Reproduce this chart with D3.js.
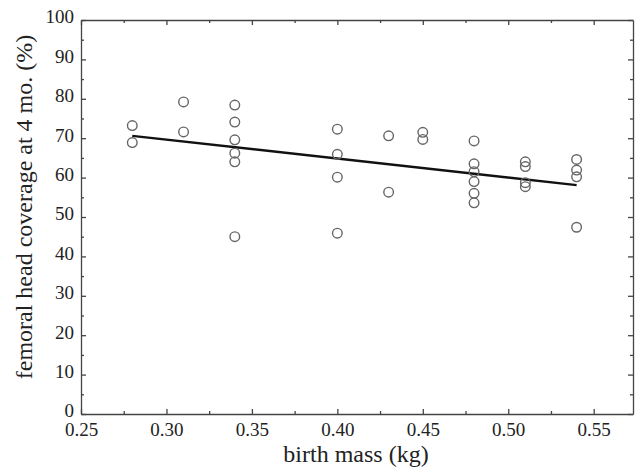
<!DOCTYPE html>
<html>
<head>
<meta charset="utf-8">
<script src="https://cdn.jsdelivr.net/npm/d3@7"></script>
<style>
  body { margin: 0; background: #fff; }
  .c-axis path, .c-axis line { stroke: #444; stroke-width: 1.3; }
  .c-axis text { font-family: "Liberation Serif", "Times New Roman", serif; font-size: 19px; fill: #222; }
  .c-title { font-family: "Liberation Serif", "Times New Roman", serif; font-size: 24px; fill: #222; }
</style>
</head>
<body>
<div id="chart"></div>
<script>
// measured points (birth mass in kg, coverage in %)
const birthMass = [
  0.28, 0.28,
  0.31, 0.31,
  0.34, 0.34, 0.34, 0.34, 0.34, 0.34,
  0.40, 0.40, 0.40, 0.40,
  0.43, 0.43,
  0.45, 0.45,
  0.48, 0.48, 0.48, 0.48, 0.48, 0.48,
  0.51, 0.51, 0.51, 0.51,
  0.54, 0.54, 0.54, 0.54
];
const headCoverage = [
  73.2, 68.9,
  79.2, 71.6,
  78.4, 74.1, 69.6, 66.2, 64.0, 45.0,
  72.3, 65.9, 60.1, 45.9,
  70.6, 56.3,
  71.5, 69.7,
  69.3, 63.5, 61.5, 59.0, 56.0, 53.6,
  64.0, 62.8, 58.7, 57.7,
  64.6, 61.9, 60.2, 47.4
];
// regression line end points
const fitMass = [0.28, 0.54];
const fitCoverage = [70.6, 58.1];

const xTicks = [0.25, 0.30, 0.35, 0.40, 0.45, 0.50, 0.55];
const xMinorTicks = [0.275, 0.325, 0.375, 0.425, 0.475, 0.525, 0.575];
const yTicks = [0, 10, 20, 30, 40, 50, 60, 70, 80, 90, 100];
const yMinorTicks = [5, 15, 25, 35, 45, 55, 65, 75, 85, 95];

const width = 637;
const height = 469;
const margin = { top: 20, right: 4, bottom: 55, left: 81 };

const svg = d3.select('#chart')
  .append('svg')
  .attr('width', width)
  .attr('height', height);

const x = d3.scaleLinear().domain([0.25, 0.573]).range([margin.left, width - margin.right]);
const y = d3.scaleLinear().domain([0, 100]).range([height - margin.bottom, margin.top]);

const xMinor = xMinorTicks.filter(v => v < x.domain()[1]);

// bottom axis
svg.append('g')
  .attr('class', 'c-axis')
  .attr('transform', 'translate(0,' + y(0) + ')')
  .call(d3.axisBottom(x).tickValues(xTicks).tickFormat(d3.format('.2f')).tickSize(-5).tickSizeOuter(0).tickPadding(9));
svg.append('g')
  .attr('class', 'c-axis')
  .attr('transform', 'translate(0,' + y(0) + ')')
  .call(d3.axisBottom(x).tickValues(xMinor).tickFormat('').tickSize(-3).tickSizeOuter(0))
  .select('.domain').remove();

// top axis
svg.append('g')
  .attr('class', 'c-axis')
  .attr('transform', 'translate(0,' + y(100) + ')')
  .call(d3.axisTop(x).tickValues(xTicks).tickFormat('').tickSize(-5).tickSizeOuter(0));
svg.append('g')
  .attr('class', 'c-axis')
  .attr('transform', 'translate(0,' + y(100) + ')')
  .call(d3.axisTop(x).tickValues(xMinor).tickFormat('').tickSize(-3).tickSizeOuter(0))
  .select('.domain').remove();

// left axis
svg.append('g')
  .attr('class', 'c-axis')
  .attr('transform', 'translate(' + x(0.25) + ',0)')
  .call(d3.axisLeft(y).tickValues(yTicks).tickFormat(d3.format('d')).tickSize(-5).tickSizeOuter(0).tickPadding(7))
  .selectAll('text').attr('dy', '0.15em');
svg.append('g')
  .attr('class', 'c-axis')
  .attr('transform', 'translate(' + x(0.25) + ',0)')
  .call(d3.axisLeft(y).tickValues(yMinorTicks).tickFormat('').tickSize(-3).tickSizeOuter(0))
  .select('.domain').remove();

// right axis
svg.append('g')
  .attr('class', 'c-axis')
  .attr('transform', 'translate(' + x.range()[1] + ',0)')
  .call(d3.axisRight(y).tickValues(yTicks).tickFormat('').tickSize(-5).tickSizeOuter(0));
svg.append('g')
  .attr('class', 'c-axis')
  .attr('transform', 'translate(' + x.range()[1] + ',0)')
  .call(d3.axisRight(y).tickValues(yMinorTicks).tickFormat('').tickSize(-3).tickSizeOuter(0))
  .select('.domain').remove();

// regression line
const line = d3.line()
  .x(d => x(d[0]))
  .y(d => y(d[1]));
svg.append('path')
  .attr('d', line(d3.zip(fitMass, fitCoverage)))
  .attr('fill', 'none')
  .attr('stroke', '#111')
  .attr('stroke-width', 2.4);

// points
svg.append('g')
  .selectAll('circle')
  .data(d3.zip(birthMass, headCoverage))
  .join('circle')
  .attr('cx', d => x(d[0]))
  .attr('cy', d => y(d[1]))
  .attr('r', 4.8)
  .attr('fill', 'none')
  .attr('stroke', '#666')
  .attr('stroke-width', 1.4);

// axis titles
svg.append('text')
  .attr('class', 'c-title')
  .attr('x', (x(0.25) + x.range()[1]) / 2 - 1)
  .attr('y', 462)
  .attr('text-anchor', 'middle')
  .text('birth mass (kg)');

svg.append('text')
  .attr('class', 'c-title')
  .attr('transform', 'translate(32,' + (y(50) - 10) + ') rotate(-90)')
  .attr('text-anchor', 'middle')
  .text('femoral head coverage at 4 mo. (%)');
</script>
</body>
</html>
